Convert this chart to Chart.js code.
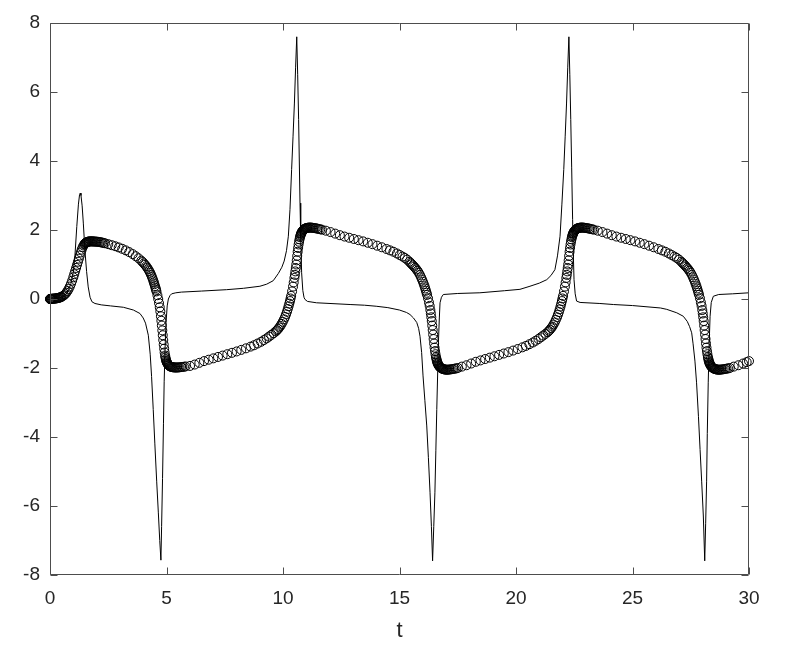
<!DOCTYPE html>
<html><head><meta charset="utf-8">
<script src="https://cdn.jsdelivr.net/npm/chart.js@4/dist/chart.umd.min.js"></script>
<style>html,body{margin:0;padding:0;background:#fff;}</style>
</head><body>
<canvas id="c" width="786" height="654"></canvas>
<script>
const xTicks = [0, 5, 10, 15, 20, 25, 30];
const yTicks = [-8, -6, -4, -2, 0, 2, 4, 6, 8];
const xTitle = 't';

// circle markers x(t), read segment by segment
const c0T = [0,0.01,0.03,0.06,0.10,0.15,0.20,0.26,0.32,0.38,
 0.44,0.50,0.55,0.60,0.65,0.70,0.75,0.80,0.85,0.90,
 0.95,1.00,1.04,1.08,1.12,1.16,1.20,1.24,1.28,1.32,
 1.36,1.40,1.44,1.48,1.52,1.56,1.61,1.66,1.72,1.79,
 1.86,1.94,2.03,2.13,2.24,2.36,2.50,2.65,2.80,2.95,
 3.10,3.25,3.40,3.55,3.68,3.80,3.92,4.03,4.13,4.22,
 4.30,4.37,4.43,4.48,4.53,4.57,4.61,4.645,4.68,4.71,
 4.735,4.76,4.78,4.80,4.82,4.84,4.86,4.88,4.90,4.92,
 4.94,4.97,5.00,5.03,5.07,5.11,5.16,5.22,5.29,5.37,
 5.46,5.56,5.68,5.82];
const c0X = [0,0.001,0.003,0.005,0.007,0.01,0.013,0.018,0.025,0.035,
 0.048,0.065,0.085,0.11,0.14,0.18,0.23,0.29,0.36,0.44,
 0.53,0.63,0.72,0.81,0.90,0.99,1.08,1.17,1.26,1.35,
 1.43,1.50,1.55,1.59,1.62,1.64,1.655,1.665,1.67,1.67,
 1.668,1.665,1.66,1.65,1.635,1.615,1.59,1.56,1.53,1.495,
 1.455,1.41,1.36,1.30,1.24,1.18,1.11,1.03,0.95,0.86,
 0.76,0.65,0.54,0.43,0.32,0.22,0.11,0,-0.12,-0.24,
 -0.36,-0.5,-0.63,-0.77,-0.91,-1.05,-1.19,-1.32,-1.44,-1.55,
 -1.64,-1.74,-1.81,-1.86,-1.90,-1.93,-1.955,-1.97,-1.98,-1.985,
 -1.985,-1.98,-1.97,-1.955];

const c1T = [6.01,6.21,6.41,6.61,6.81,7.01,7.21,7.41,7.61,7.81,
 8.01,8.21,8.41,8.61,8.76,8.91,9.06,9.18,9.30,9.40,
 9.50,9.60,9.69,9.79,9.89,9.99,10.09,10.17,10.24,10.30,
 10.35,10.39,10.43,10.46,10.49,10.51,10.53,10.55,10.57];
const c1X = [-1.94,-1.90,-1.85,-1.80,-1.76,-1.72,-1.68,-1.64,-1.60,-1.56,
 -1.52,-1.475,-1.43,-1.38,-1.34,-1.29,-1.24,-1.19,-1.14,-1.09,
 -1.04,-0.99,-0.94,-0.87,-0.78,-0.66,-0.52,-0.37,-0.21,-0.06,
 0.09,0.22,0.36,0.48,0.61,0.70,0.80,0.90,1.00];

const c2T = [10.59,10.61,10.63,10.65,10.67,10.69,10.71,10.73,10.76,10.79,
 10.82,10.86,10.90,10.95,11.00,11.06,11.13,11.21,11.30,11.41,
 11.53,11.67,11.84,12.04,12.24,12.44,12.64,12.84,13.04,13.24,
 13.44,13.64,13.84,14.04,14.24,14.44,14.59,14.74,14.89,15.01,
 15.13,15.23,15.33,15.43,15.525,15.625,15.725,15.825,15.925,16.005,
 16.075,16.135,16.185,16.225,16.265,16.295,16.325,16.345,16.365,16.385,
 16.405];
const c2X = [1.12,1.25,1.37,1.48,1.58,1.66,1.73,1.79,1.86,1.91,
 1.95,1.99,2.02,2.04,2.055,2.065,2.07,2.07,2.06,2.05,
 2.03,2.01,1.98,1.94,1.895,1.85,1.81,1.775,1.74,1.705,
 1.67,1.63,1.59,1.545,1.50,1.45,1.41,1.37,1.32,1.275,
 1.23,1.19,1.14,1.08,1.01,0.94,0.86,0.76,0.63,0.50,
 0.37,0.24,0.12,0.02,-0.10,-0.20,-0.32,-0.42,-0.53,-0.64,
 -0.77];

const c3T = [16.425,16.445,16.465,16.485,16.505,16.525,16.545,16.565,16.595,16.625,
 16.655,16.695,16.735,16.785,16.835,16.895,16.965,17.045,17.135,17.245,
 17.365,17.505,17.675,17.875,18.075,18.275,18.475,18.675,18.875,19.075,
 19.275,19.475,19.675,19.875,20.075,20.275,20.425,20.575,20.725,20.845,
 20.965,21.065,21.165,21.265,21.36,21.46,21.56,21.66,21.76,21.84,
 21.91,21.97,22.02,22.06,22.10,22.13,22.16,22.18,22.20,22.22,
 22.24];
const c3X = [-0.90,-1.03,-1.16,-1.29,-1.41,-1.51,-1.60,-1.68,-1.77,-1.84,
 -1.89,-1.94,-1.975,-2.00,-2.02,-2.035,-2.045,-2.05,-2.045,-2.035,
 -2.02,-2.00,-1.96,-1.92,-1.87,-1.82,-1.78,-1.74,-1.70,-1.66,
 -1.62,-1.58,-1.54,-1.495,-1.45,-1.40,-1.36,-1.31,-1.26,-1.21,
 -1.16,-1.11,-1.06,-1.01,-0.96,-0.89,-0.80,-0.68,-0.53,-0.38,
 -0.22,-0.06,0.09,0.22,0.36,0.48,0.61,0.70,0.80,0.90,
 1.00];

const c4T = [22.26,22.28,22.30,22.32,22.34,22.36,22.38,22.40,22.43,22.46,
 22.49,22.53,22.57,22.62,22.67,22.73,22.80,22.88,22.97,23.08,
 23.20,23.34,23.51,23.71,23.91,24.11,24.31,24.51,24.71,24.91,
 25.11,25.31,25.51,25.71,25.91,26.11,26.26,26.41,26.56,26.68,
 26.80,26.90,27.00,27.10,27.195,27.295,27.395,27.495,27.595,27.675,
 27.745,27.805,27.855,27.895,27.935,27.965,27.995,28.015,28.035,28.055,
 28.075];
const c4X = [1.12,1.25,1.37,1.48,1.58,1.66,1.73,1.79,1.86,1.91,
 1.95,1.99,2.02,2.04,2.055,2.065,2.07,2.07,2.06,2.05,
 2.03,2.01,1.98,1.94,1.895,1.85,1.81,1.775,1.74,1.705,
 1.67,1.63,1.59,1.545,1.50,1.45,1.41,1.37,1.32,1.275,
 1.23,1.19,1.14,1.08,1.01,0.94,0.86,0.76,0.63,0.50,
 0.37,0.24,0.12,0.02,-0.10,-0.20,-0.32,-0.42,-0.53,-0.64,
 -0.77];

const c5T = [28.095,28.115,28.135,28.155,28.175,28.195,28.215,28.235,28.265,28.295,
 28.325,28.365,28.405,28.455,28.505,28.565,28.635,28.715,28.805,28.915,
 29.035,29.175,29.345,29.545,29.745,29.90,30.00];
const c5X = [-0.90,-1.03,-1.16,-1.29,-1.41,-1.51,-1.60,-1.68,-1.77,-1.84,
 -1.89,-1.94,-1.975,-2.00,-2.02,-2.035,-2.045,-2.05,-2.045,-2.035,
 -2.02,-2.00,-1.96,-1.92,-1.87,-1.83,-1.80];

// extra solver points where the markers pile up (start, corners, knees)
const dT = [0.005,0.02,0.04,0.08,0.12,0.17,0.23,0.29,0.35,0.41,0.47,
 1.50,1.54,1.585,1.635,1.69,1.755,1.825,1.90,1.985,2.08,2.185,2.30,
 3.975,4.08,4.175,4.26,4.335,4.40,4.455,4.505,4.55,
 4.955,4.985,5.015,5.05,5.09,5.135,5.19,5.255,5.33,5.415,5.51,5.62,5.75,
 9.74,9.84,9.94,10.04,10.13,10.205,10.27,10.325,
 10.745,10.775,10.805,10.84,10.88,10.925,10.975,11.03,11.095,11.17,11.255,11.355,11.47,11.6,
 15.475,15.575,15.675,15.775,15.875,15.965,16.04,16.105,16.16,
 16.58,16.61,16.64,16.675,16.715,16.76,16.81,16.865,16.93,17.005,17.09,17.19,17.305,17.43,
 21.41,21.51,21.61,21.71,21.80,21.875,21.94,21.995,
 22.415,22.445,22.475,22.51,22.55,22.595,22.645,22.70,22.765,22.84,22.925,23.025,23.14,23.27,
 27.145,27.245,27.345,27.445,27.545,27.635,27.71,27.775,27.83,
 28.25,28.28,28.31,28.345,28.385,28.43,28.48,28.535,28.60,28.675,28.76,28.86,28.975,29.10];
const dX = [0,0.002,0.004,0.006,0.008,0.011,0.015,0.021,0.03,0.041,0.056,
 1.605,1.632,1.648,1.66,1.668,1.67,1.669,1.666,1.662,1.655,1.643,1.625,
 1.07,0.99,0.905,0.81,0.705,0.595,0.485,0.375,0.27,
 -1.69,-1.78,-1.835,-1.88,-1.915,-1.945,-1.963,-1.976,-1.983,-1.986,-1.983,-1.975,-1.963,
 -0.905,-0.825,-0.72,-0.59,-0.445,-0.29,-0.135,0.015,
 1.83,1.89,1.935,1.975,2.005,2.03,2.048,2.06,2.068,2.07,2.065,2.055,2.04,2.02,
 1.045,0.975,0.9,0.815,0.7,0.565,0.435,0.305,0.18,
 -1.72,-1.805,-1.865,-1.915,-1.958,-1.99,-2.01,-2.028,-2.04,-2.048,-2.048,-2.04,-2.028,-2.012,
 -0.925,-0.845,-0.74,-0.605,-0.455,-0.30,-0.14,0.015,
 1.83,1.89,1.935,1.975,2.005,2.03,2.048,2.06,2.068,2.07,2.065,2.055,2.04,2.02,
 1.045,0.975,0.9,0.815,0.7,0.565,0.435,0.305,0.18,
 -1.72,-1.805,-1.865,-1.915,-1.958,-1.99,-2.01,-2.028,-2.04,-2.048,-2.048,-2.04,-2.028,-2.012];

// thin line dx/dt
const lineT = [0,0.30,0.50,0.60,0.70,0.80,0.90,1.00,1.07,1.15,
 1.22,1.27,1.30,1.33,1.38,1.43,1.50,1.57,1.64,1.72,
 1.80,1.93,2.20,2.60,3.15,3.58,3.86,4.00,4.10,4.22,
 4.30,4.36,4.43,4.50,4.58,4.65,4.71,4.76,4.79,4.83,
 4.87,4.90,4.94,4.98,5.03,5.08,5.15,5.22,5.40,5.64,
 6.50,7.58,8.30,9.01,9.30,9.58,9.80,9.95,10.05,10.15,
 10.23,10.30,10.37,10.43,10.49,10.54,10.59,10.63,10.67,10.70,
 10.73,10.76,10.80,10.85,10.90,10.94,11.05,11.44,12.88,13.50,
 14.00,14.50,15.00,15.30,15.45,15.60,15.74,15.82,15.88,15.95,
 16.01,16.09,16.17,16.24,16.31,16.37,16.42,16.47,16.52,16.56,
 16.60,16.64,16.67,16.71,16.74,16.80,16.88,17.50,18.45,19.50,
 20.17,20.60,21.00,21.32,21.50,21.67,21.78,21.89,21.97,22.05,
 22.11,22.17,22.22,22.27,22.31,22.35,22.39,22.43,22.46,22.49,
 22.54,22.60,22.75,23.60,24.18,25.00,26.20,26.47,26.90,27.18,
 27.35,27.45,27.54,27.60,27.68,27.75,27.83,27.90,27.97,28.04,
 28.10,28.14,28.18,28.21,28.25,28.29,28.33,28.38,28.47,28.70,
 29.30,30.00];
const lineV = [0,0.01,0.05,0.09,0.16,0.27,0.45,0.78,1.25,2.10,
 2.75,3.03,3.07,3.00,2.70,2.20,1.40,0.80,0.35,0.05,
 -0.08,-0.13,-0.17,-0.20,-0.24,-0.32,-0.42,-0.55,-0.70,-1.05,
 -1.60,-2.25,-3.20,-4.20,-5.30,-6.20,-7.00,-7.57,-6.60,-5.20,
 -3.60,-2.40,-1.40,-0.69,-0.20,0,0.10,0.15,0.18,0.20,
 0.23,0.27,0.31,0.37,0.43,0.53,0.74,0.92,1.10,1.40,
 1.82,2.60,3.75,4.70,5.68,6.70,7.60,6.50,5.20,4.00,
 2.78,1.80,0.76,0.25,0.05,-0.01,-0.07,-0.11,-0.16,-0.18,
 -0.21,-0.25,-0.32,-0.39,-0.45,-0.55,-0.68,-0.85,-1.08,-1.55,
 -2.23,-2.95,-3.68,-4.60,-5.60,-6.60,-7.59,-6.60,-5.60,-4.40,
 -3.20,-2.10,-1.26,-0.55,-0.11,0.05,0.13,0.16,0.18,0.24,
 0.28,0.37,0.46,0.56,0.68,0.85,1.25,1.82,2.75,3.75,
 4.70,5.68,6.70,7.60,6.50,5.20,3.80,2.30,1.30,0.56,
 0.15,-0.06,-0.10,-0.13,-0.16,-0.19,-0.26,-0.30,-0.40,-0.50,
 -0.65,-0.80,-0.98,-1.30,-1.80,-2.43,-3.40,-4.36,-5.30,-6.29,
 -7.59,-6.50,-5.30,-3.90,-2.43,-1.30,-0.50,-0.10,0.08,0.13,
 0.15,0.18];

const circT = [].concat(c0T, c1T, c2T, c3T, c4T, c5T, dT);
const circX = [].concat(c0X, c1X, c2X, c3X, c4X, c5X, dX);

const FONT = 'Liberation Sans, Arial, Helvetica, sans-serif';
const AXC = '#262626';

const frame = {
  id: 'frame',
  afterDatasetsDraw(chart) {
    const {ctx, chartArea: a, scales: {x, y}} = chart;
    const L = Math.round(a.left) + 0.5, R = Math.round(a.right) - 0.5;
    const T = Math.round(a.top) + 0.5, B = Math.round(a.bottom) - 0.5;
    ctx.save();
    ctx.strokeStyle = '#4d4d4d';
    ctx.lineWidth = 1;
    ctx.beginPath();
    ctx.rect(L, T, R - L, B - T);
    const tl = 7;
    xTicks.forEach(v => {
      const px = Math.round(x.getPixelForValue(v)) + 0.5;
      ctx.moveTo(px, B); ctx.lineTo(px, B - tl);
      ctx.moveTo(px, T); ctx.lineTo(px, T + tl);
    });
    yTicks.forEach(v => {
      const py = Math.round(y.getPixelForValue(v)) + 0.5;
      ctx.moveTo(L, py); ctx.lineTo(L + tl, py);
      ctx.moveTo(R, py); ctx.lineTo(R - tl, py);
    });
    ctx.stroke();
    ctx.restore();
  }
};

new Chart(document.getElementById('c'), {
  type: 'scatter',
  data: {
    datasets: [
      {
        label: 'x',
        data: circT.map((t, i) => ({x: t, y: circX[i]})),
        showLine: false,
        pointStyle: 'circle',
        pointRadius: 4.5,
        pointBorderWidth: 1,
        borderColor: '#000',
        backgroundColor: 'rgba(0,0,0,0)',
        clip: false
      },
      {
        label: 'dx',
        data: lineT.map((t, i) => ({x: t, y: lineV[i]})),
        showLine: true,
        borderColor: '#000',
        borderWidth: 1,
        pointRadius: 0,
        tension: 0,
        backgroundColor: 'rgba(0,0,0,0)'
      }
    ]
  },
  options: {
    responsive: false,
    animation: false,
    devicePixelRatio: 1,
    layout: {padding: {left: 0, right: 37, top: 23, bottom: 0}},
    plugins: {legend: {display: false}, tooltip: {enabled: false}},
    scales: {
      x: {
        type: 'linear', min: 0, max: 30,
        afterBuildTicks: s => { s.ticks = xTicks.map(v => ({value: v})); },
        afterFit: s => { s.height = 79; },
        grid: {display: false, drawTicks: false},
        border: {display: false},
        ticks: {padding: 12, color: AXC, maxRotation: 0, font: {family: FONT, size: 19}},
        title: {display: true, text: xTitle, color: AXC, font: {family: FONT, size: 22}, padding: {top: 0, bottom: 10}}
      },
      y: {
        type: 'linear', min: -8, max: 8,
        afterBuildTicks: s => { s.ticks = yTicks.map(v => ({value: v})); },
        afterFit: s => { s.width = 50; },
        grid: {display: false, drawTicks: false},
        border: {display: false},
        ticks: {padding: 10, color: AXC, font: {family: FONT, size: 19}}
      }
    }
  },
  plugins: [frame]
});
</script>
</body></html>
